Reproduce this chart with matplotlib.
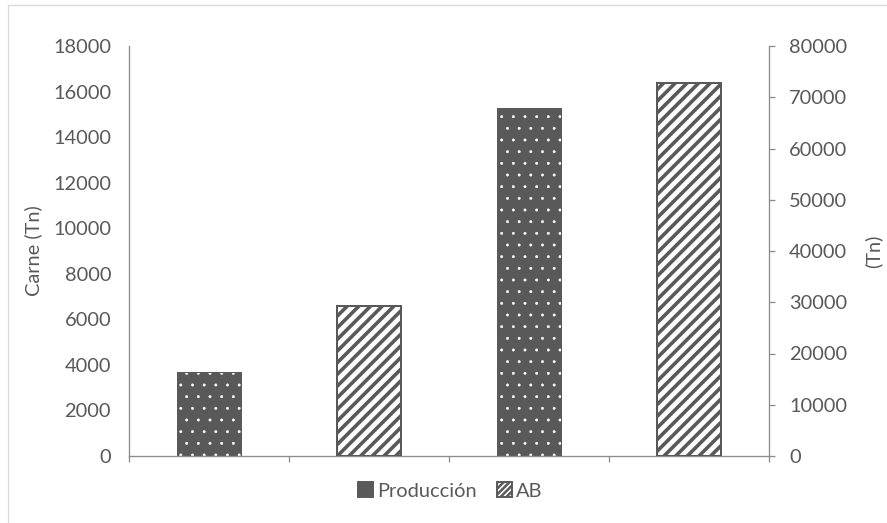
import numpy as np
import matplotlib
matplotlib.use("Agg")
import matplotlib.pyplot as plt
from matplotlib.patches import Patch, Rectangle

# datos (sin etiquetas de categoria en el original)
categorias = ["", "", "", ""]
produccion = [3700, np.nan, 15300, np.nan]   # eje izquierdo, Carne (Tn)
ab = [np.nan, 29300, np.nan, 72800]          # eje derecho, (Tn)

izq_ticks = list(range(0, 18001, 2000))
der_ticks = list(range(0, 80001, 10000))

GRIS = "#595959"
EJE = "#8c8c8c"

# dpi 140 para que la trama quede con rayas cada ~12 px
DPI = 140
W, H = 887, 523


def pt(px):
    """pixeles -> puntos a este dpi"""
    return px * 72 / DPI


FS = pt(20)

plt.rcParams["font.family"] = ["Lato", "DejaVu Sans"]
plt.rcParams["font.size"] = FS


def grosor_trama(barras, lw):
    for b in barras:
        if hasattr(b, "set_hatch_linewidth"):
            b.set_hatch_linewidth(lw)


fig = plt.figure(figsize=(W / DPI, H / DPI), dpi=DPI)
ax = fig.add_axes([129 / W, 67 / H, 640 / W, 410 / H])
ax2 = ax.twinx()

x = np.arange(len(categorias)) + 0.5
ancho = 0.4

plt.rcParams["hatch.linewidth"] = pt(3.6)
b1 = ax.bar(x, produccion, width=ancho, color=GRIS, edgecolor="white",
            hatch="..", linewidth=0, zorder=2)
grosor_trama(b1, pt(0.5))
ax.bar(x, produccion, width=ancho, fill=False, edgecolor=GRIS,
       linewidth=pt(1), zorder=3)

b2 = ax2.bar(x, ab, width=ancho, color="white", edgecolor=GRIS,
             hatch="////", linewidth=pt(2), zorder=2)
grosor_trama(b2, pt(3.6))

ax.set_xlim(0, 4)
ax.set_ylim(0, 18000)
ax2.set_ylim(0, 80000)
ax.set_yticks(izq_ticks)
ax2.set_yticks(der_ticks)
ax.set_xticks(np.arange(0, 5))
ax.set_xticklabels([])

ax.spines["top"].set_visible(False)
ax2.spines["top"].set_visible(False)
ax.spines["right"].set_visible(False)
ax2.spines["left"].set_visible(False)
ax2.spines["bottom"].set_visible(False)
for sp in [ax.spines["left"], ax.spines["bottom"], ax2.spines["right"]]:
    sp.set_color(EJE)
    sp.set_linewidth(pt(1.3))

ax.tick_params(axis="y", length=0, pad=pt(18), colors=GRIS, labelcolor=GRIS)
ax.tick_params(axis="x", length=pt(6), width=pt(1.3), direction="out", color=EJE)
ax2.tick_params(axis="y", length=pt(6), width=pt(1.3), direction="out",
                pad=pt(14), color=EJE, labelcolor=GRIS)

fig.text(33 / W, 1 - 251 / H, "Carne (Tn)", rotation=90, ha="center",
         va="center", color=GRIS, fontsize=FS)
fig.text(873 / W, 1 - 251 / H, "(Tn)", rotation=90, ha="center",
         va="center", color=GRIS, fontsize=FS)

handles = [Patch(facecolor=GRIS, edgecolor=GRIS, label="Producción"),
           Patch(facecolor="white", edgecolor=GRIS, hatch="////////", label="AB")]
leg = fig.legend(handles=handles, loc="center",
                 bbox_to_anchor=(450 / W, 1 - 491 / H),
                 ncol=2, frameon=False, handlelength=0.75, handleheight=0.75,
                 handletextpad=0.2, columnspacing=1.0, labelcolor=GRIS,
                 fontsize=FS)
grosor_trama(leg.get_patches(), pt(2.5))

# borde del grafico
fig.patches.append(Rectangle((8 / W, -0.1), 1.2, (1 - 5 / H) + 0.1,
                             transform=fig.transFigure, fill=False,
                             edgecolor="#d9d9d9", linewidth=pt(1.3)))

fig.savefig("out.png", dpi=DPI)
